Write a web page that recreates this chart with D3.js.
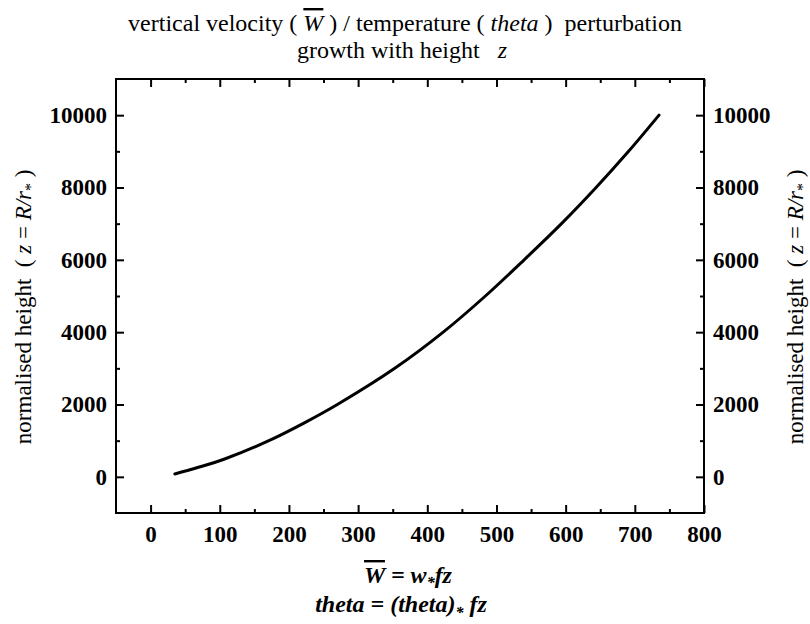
<!DOCTYPE html>
<html>
<head>
<meta charset="utf-8">
<script src="https://cdn.jsdelivr.net/npm/d3@7"></script>
<style>
  body { margin: 0; background: #fff; }
  text { font-family: "Liberation Serif", "Times New Roman", serif; fill: #000; }
</style>
</head>
<body>
<div id="chart"></div>
<script>
// curve: height z and W at that height
var heights = [80, 250, 500, 1000, 1500, 2000, 3000, 4000, 5000, 6000, 7000, 8000, 9000, 10000];
var wValues = [35, 67, 108, 171, 223, 270, 353, 423, 484, 540, 594, 644, 691, 735];

var xTicks = [0, 100, 200, 300, 400, 500, 600, 700, 800];
var xMinor = [50, 150, 250, 350, 450, 550, 650, 750];
var yTicks = [0, 2000, 4000, 6000, 8000, 10000];
var yMinor = [1000, 3000, 5000, 7000, 9000];

var data = heights.map(function(z, i) { return {w: wValues[i], z: z}; });

// set the dimensions and margins of the graph
var margin = {top: 79, right: 106, bottom: 111, left: 116},
    width = 810 - margin.left - margin.right,
    height = 624 - margin.top - margin.bottom;

var svg = d3.select("#chart")
  .append("svg")
    .attr("width", 810)
    .attr("height", 624);

var g = svg.append("g")
    .attr("transform", "translate(" + margin.left + "," + margin.top + ")");

var x = d3.scaleLinear().domain([-50, 800]).range([0, width]);
var y = d3.scaleLinear().domain([-1000, 11000]).range([height, 0]);

function styleAxis(sel, labels) {
  sel.select(".domain").remove();
  sel.selectAll(".tick line").attr("stroke", "#000").attr("stroke-width", 2);
  sel.selectAll(".tick text")
    .style("font-size", "23px")
    .style("font-weight", "bold")
    .attr("fill", "#000");
  if (!labels) sel.selectAll(".tick text").remove();
}

// bottom axis
g.append("g").attr("transform", "translate(0," + height + ")")
  .call(d3.axisBottom(x).tickValues(xTicks).tickSize(-8).tickPadding(13).tickFormat(d3.format("d")))
  .call(styleAxis, true);
g.append("g").attr("transform", "translate(0," + height + ")")
  .call(d3.axisBottom(x).tickValues(xMinor).tickSize(-4))
  .call(styleAxis, false);
// top axis
g.append("g")
  .call(d3.axisTop(x).tickValues(xTicks).tickSize(-8))
  .call(styleAxis, false);
g.append("g")
  .call(d3.axisTop(x).tickValues(xMinor).tickSize(-4))
  .call(styleAxis, false);
// left axis
g.append("g")
  .call(d3.axisLeft(y).tickValues(yTicks).tickSize(-8).tickPadding(9).tickFormat(d3.format("d")))
  .call(styleAxis, true);
g.append("g")
  .call(d3.axisLeft(y).tickValues(yMinor).tickSize(-4))
  .call(styleAxis, false);
// right axis
g.append("g").attr("transform", "translate(" + width + ",0)")
  .call(d3.axisRight(y).tickValues(yTicks).tickSize(-8).tickPadding(9).tickFormat(d3.format("d")))
  .call(styleAxis, true);
g.append("g").attr("transform", "translate(" + width + ",0)")
  .call(d3.axisRight(y).tickValues(yMinor).tickSize(-4))
  .call(styleAxis, false);

// frame
g.append("rect")
  .attr("width", width).attr("height", height)
  .attr("fill", "none").attr("stroke", "#000").attr("stroke-width", 2);

// the curve
g.append("path")
  .datum(data)
  .attr("fill", "none")
  .attr("stroke", "#000")
  .attr("stroke-width", 3)
  .attr("stroke-linecap", "round")
  .attr("d", d3.line()
    .curve(d3.curveCatmullRom)
    .x(function(d) { return x(d.w); })
    .y(function(d) { return y(d.z); }));

// title
var t1 = svg.append("text").attr("x", 405).attr("y", 31)
  .attr("text-anchor", "middle").style("font-size", "24px")
  .attr("xml:space", "preserve");
t1.append("tspan").text("vertical velocity ( ");
t1.append("tspan").style("font-style", "italic").style("text-decoration", "overline").text("W");
t1.append("tspan").text(" ) / temperature ( ");
t1.append("tspan").style("font-style", "italic").text("theta");
t1.append("tspan").text(" )  perturbation");

var t2 = svg.append("text").attr("x", 402).attr("y", 58)
  .attr("text-anchor", "middle").style("font-size", "24px")
  .attr("xml:space", "preserve");
t2.append("tspan").text("growth with height   ");
t2.append("tspan").style("font-style", "italic").text("z");

// y axis titles
function yTitle(cx) {
  var t = svg.append("text")
    .attr("transform", "translate(" + cx + "," + (margin.top + y(4700)) + ") rotate(-90)")
    .attr("text-anchor", "middle").style("font-size", "23px")
    .attr("xml:space", "preserve");
  t.append("tspan").text("normalised height  ( ");
  t.append("tspan").style("font-style", "italic").text("z");
  t.append("tspan").text(" = ");
  t.append("tspan").style("font-style", "italic").text("R/r");
  t.append("tspan").attr("dy", 5).style("font-size", "16px").text("*");
  t.append("tspan").attr("dy", -5).text(" )");
}
yTitle(31);
yTitle(803);

// x axis titles
var x1 = svg.append("text").attr("x", 408).attr("y", 583)
  .attr("text-anchor", "middle")
  .style("font-size", "24px").style("font-weight", "bold").style("font-style", "italic");
x1.append("tspan").style("text-decoration", "overline").text("W");
x1.append("tspan").text(" = w");
x1.append("tspan").attr("dy", 5).style("font-size", "16px").text("*");
x1.append("tspan").attr("dy", -5).text("fz");

var x2 = svg.append("text").attr("x", 401).attr("y", 612)
  .attr("text-anchor", "middle")
  .style("font-size", "24px").style("font-weight", "bold").style("font-style", "italic");
x2.append("tspan").text("theta = (theta)");
x2.append("tspan").attr("dy", 6).style("font-size", "16px").text("*");
x2.append("tspan").attr("dy", -6).attr("dx", 6).text("fz");
</script>
</body>
</html>
